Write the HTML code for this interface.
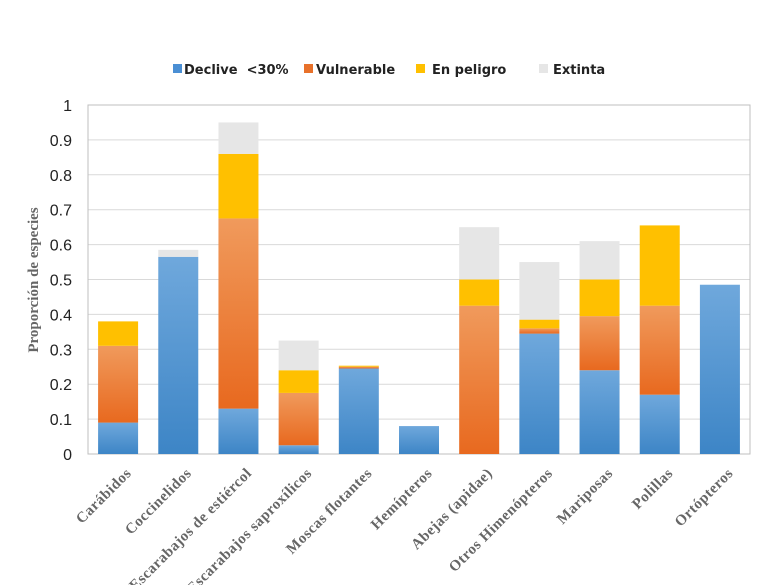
<!DOCTYPE html>
<html><head><meta charset="utf-8"><style>
body{margin:0;background:#fff;width:760px;height:585px;overflow:hidden}
svg{display:block}
</style></head><body>
<svg id="chart" width="760" height="585" xmlns="http://www.w3.org/2000/svg">
<defs>
<linearGradient id="gB" x1="0" y1="0" x2="0" y2="1"><stop offset="0" stop-color="#6fa8dc"/><stop offset="1" stop-color="#3d85c6"/></linearGradient>
<linearGradient id="gO" x1="0" y1="0" x2="0" y2="1"><stop offset="0" stop-color="#f09a5c"/><stop offset="1" stop-color="#e8691f"/></linearGradient>
<linearGradient id="gY" x1="0" y1="0" x2="0" y2="1"><stop offset="0" stop-color="#ffc000"/><stop offset="1" stop-color="#ffc000"/></linearGradient>
<linearGradient id="gG" x1="0" y1="0" x2="0" y2="1"><stop offset="0" stop-color="#e6e6e6"/><stop offset="1" stop-color="#e6e6e6"/></linearGradient>
</defs>
<g id="legend" font-family="'DejaVu Sans', sans-serif" font-weight="bold" font-size="13" fill="#222">
<rect x="173" y="64" width="9" height="9" fill="#4a8fd4"/>
<text x="184" y="74" xml:space="preserve">Declive  &lt;30%</text>
<rect x="304" y="64" width="9" height="9" fill="#e8712a"/>
<text x="316" y="74">Vulnerable</text>
<rect x="416" y="64" width="9" height="9" fill="#ffc000"/>
<text x="432" y="74">En peligro</text>
<rect x="539" y="64" width="9" height="9" fill="#e6e6e6"/>
<text x="553" y="74">Extinta</text>
</g>
<text transform="translate(38,280) rotate(-90)" text-anchor="middle" font-family="'Liberation Serif', serif" font-weight="bold" font-size="15" fill="#666">Proporción de especies</text>
<g id="plot"></g>
</svg>
<script>
const categories = ["Carábidos","Coccinelidos","Escarabajos de estiércol","Escarabajos saproxílicos","Moscas flotantes","Hemípteros","Abejas (apidae)","Otros Himenópteros","Mariposas","Polillas","Ortópteros"];
const declive = [0.09,0.565,0.13,0.025,0.245,0.08,0,0.345,0.24,0.17,0.485];
const vulnerable = [0.22,0,0.545,0.15,0.005,0,0.425,0.015,0.155,0.255,0];
const enPeligro = [0.07,0,0.185,0.065,0.003,0,0.075,0.025,0.105,0.23,0];
const extinta = [0,0.02,0.09,0.085,0,0,0.15,0.165,0.11,0,0];
const yTicks = [0,0.1,0.2,0.3,0.4,0.5,0.6,0.7,0.8,0.9,1];
const yTickLabels = ["0","0.1","0.2","0.3","0.4","0.5","0.6","0.7","0.8","0.9","1"];

const NS = "http://www.w3.org/2000/svg";
const L = 88, R = 750, T = 105, B = 454;
const y = v => B - v * (B - T);
const step = (R - L) / categories.length;
const xc = i => L + step * (i + 0.5);
const BW = 40;
const g = document.getElementById('plot');
function mk(tag, attrs) { const e = document.createElementNS(NS, tag); for (const k in attrs) e.setAttribute(k, attrs[k]); g.appendChild(e); return e; }

yTicks.forEach((t, i) => {
  const ln = mk('line', {x1: L, x2: R, y1: y(t), y2: y(t), stroke: '#d9d9d9', 'stroke-width': 1});
  
  
  const tx = mk('text', {x: 72, y: y(t) + 6, 'text-anchor': 'end', 'font-family': "'Liberation Sans', sans-serif", 'font-size': 16, fill: '#222'});
  tx.textContent = yTickLabels[i];
  
  
});
const frame = mk('rect', {x: L, y: T, width: R - L, height: B - T, fill: 'none', stroke: '#bfbfbf', 'stroke-width': 1});



const series = [[declive, 'url(#gB)', 'declive'], [vulnerable, 'url(#gO)', 'vulnerable'], [enPeligro, 'url(#gY)', 'en-peligro'], [extinta, 'url(#gG)', 'extinta']];
categories.forEach((c, i) => {
  let base = 0;
  series.forEach(([arr, fill, nm]) => {
    const v = arr[i];
    if (v > 0) {
      const r = mk('rect', {x: xc(i) - BW / 2, y: y(base + v), width: BW, height: y(base) - y(base + v), fill: fill});
      
      
    }
    base += v;
  });
  const lb = mk('text', {transform: `translate(${xc(i) + 14},${B + 20}) rotate(-45)`, 'text-anchor': 'end', 'font-family': "'Liberation Serif', serif", 'font-weight': 'bold', 'font-size': 15, 'letter-spacing': 0.5, fill: '#666'});
  lb.textContent = c;
  
  
});
</script>
</body></html>
